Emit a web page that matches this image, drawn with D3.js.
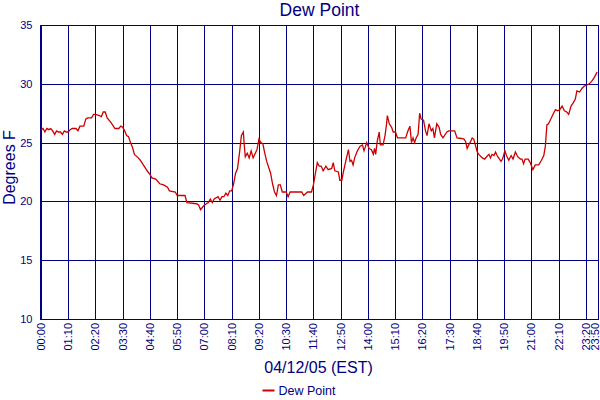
<!DOCTYPE html>
<html>
<head>
<meta charset="utf-8">
<script src="https://cdn.jsdelivr.net/npm/d3@7"></script>
<style>
  body { margin: 0; background: #fff; }
  text { font-family: "Liberation Sans", Arial, sans-serif; fill: #000080; }
</style>
</head>
<body>
<svg id="chart" width="600" height="400"></svg>
<script>
// Readings of the day (time of reading, dew point in F)
const times = [
  "00:00","00:05","00:10","00:15","00:20","00:25","00:30","00:35","00:40","00:45",
  "00:50","00:55","01:00","01:05","01:10","01:15","01:20","01:30","01:35","01:40",
  "01:50","01:55","02:00","02:10","02:15","02:20","02:30","02:35","02:40","02:45",
  "02:50","03:00","03:10","03:20","03:25","03:30","03:35","03:40","03:45","03:50",
  "03:55","04:00","04:10","04:15","04:25","04:35","04:40","04:45","04:55","05:05",
  "05:15","05:25","05:30","05:45","05:50","06:10","06:15","06:40","06:45","06:50",
  "06:55","07:00","07:10","07:15","07:20","07:25","07:35","07:40","07:45","07:50",
  "07:55","08:00","08:05","08:10","08:15","08:20","08:25","08:30","08:35","08:40",
  "08:42","08:45","08:50","08:55","09:00","09:05","09:15","09:20","09:25","09:30",
  "09:35","09:40","09:50","09:55","10:00","10:05","10:10","10:15","10:20","10:30",
  "10:35","10:40","11:10","11:15","11:25","11:35","11:40","11:50","11:55","12:00",
  "12:05","12:12","12:18","12:27","12:31","12:35","12:44","12:48","12:53","12:57",
  "13:03","13:10","13:14","13:18","13:22","13:26","13:33","13:40","13:46","13:50",
  "13:57","14:03","14:09","14:14","14:17","14:20","14:24","14:29","14:32","14:39",
  "14:44","14:48","14:50","14:55","15:01","15:05","15:11","15:16","15:22","15:37",
  "15:43","15:48","15:52","15:56","16:00","16:04","16:09","16:13","16:17","16:23",
  "16:28","16:32","16:37","16:43","16:47","16:51","16:57","17:03","17:07","17:13",
  "17:23","17:28","17:43","17:49","18:00","18:07","18:11","18:15","18:19","18:24",
  "18:28","18:32","18:37","18:41","18:45","18:54","19:00","19:05","19:11","19:15",
  "19:19","19:24","19:28","19:32","19:36","19:42","19:46","19:52","19:56","20:02",
  "20:08","20:13","20:19","20:25","20:32","20:36","20:40","20:44","20:52","20:57",
  "21:04","21:10","21:19","21:26","21:32","21:36","21:40","21:44","21:50","21:57",
  "22:02","22:07","22:13","22:19","22:25","22:31","22:36","22:42","22:48","22:53",
  "22:57","23:04","23:10","23:16","23:23","23:29","23:35","23:41","23:46","23:49"
];
const dewPoint = [
  26.1,26.2,25.9,26.2,26.1,26.2,26.0,25.7,26.0,25.9,
  25.9,25.7,26.0,25.9,25.9,26.1,26.2,26.2,26.0,26.4,
  26.4,27.0,27.1,27.1,27.4,27.4,27.3,27.2,27.6,27.6,
  27.1,26.7,26.2,26.2,26.4,26.3,26.0,25.6,25.5,25.0,
  24.6,24.0,23.7,23.5,23.0,22.5,22.3,22.0,21.9,21.5,
  21.4,21.2,20.9,20.8,20.5,20.5,19.9,19.8,19.7,19.3,
  19.5,19.7,19.9,20.2,19.9,20.2,20.4,20.1,20.4,20.4,
  20.7,20.5,20.9,20.9,21.5,22.4,22.8,24.1,25.6,25.9,
  24.9,23.8,24.1,23.7,24.3,23.7,24.4,25.3,25.0,24.9,
  24.1,23.4,22.4,21.5,20.8,20.5,21.4,21.4,20.8,20.8,
  20.4,20.8,20.8,20.5,20.8,20.8,21.4,23.3,23.0,23.0,
  22.6,23.0,22.7,22.8,23.3,22.6,22.5,21.8,21.8,22.5,
  23.4,24.4,23.4,23.5,23.1,23.7,24.3,24.7,24.8,24.3,
  25.0,24.5,24.4,24.0,24.5,24.0,25.1,25.9,24.8,24.8,
  25.6,26.6,27.3,26.6,26.3,25.9,25.9,25.4,25.4,25.4,
  26.0,26.4,25.0,25.4,25.0,25.4,25.7,27.5,27.0,26.9,
  26.0,25.6,26.6,26.0,26.2,25.4,26.6,26.3,25.7,25.4,
  25.9,26.0,26.0,25.4,25.35,25.3,25.1,24.5,24.8,25.1,
  25.4,25.3,24.7,24.2,24.0,23.7,23.6,23.8,24.0,23.7,
  24.0,23.9,24.2,23.9,23.7,23.4,23.6,24.3,23.9,23.5,
  23.9,23.6,24.2,23.8,23.6,23.6,23.2,23.6,23.6,23.3,
  22.7,23.1,23.1,23.5,23.9,24.7,26.5,26.6,27.0,27.5,
  27.8,27.7,27.8,28.1,27.7,27.6,27.4,28.1,28.4,28.7,
  29.4,29.3,29.6,29.8,29.9,30.0,30.2,30.5,30.8,31.0
];
const xTickLabels = ["00:00","01:10","02:20","03:30","04:40","05:50","07:00","08:10","09:20",
  "10:30","11:40","12:50","14:00","15:10","16:20","17:30","18:40","19:50","21:00",
  "22:10","23:20","23:50"];
const yTicks = [10, 15, 20, 25, 30, 35];

const toMin = s => { const p = s.split(":"); return +p[0] * 60 + +p[1]; };
const data = times.map((t, i) => ({ m: toMin(t), v: dewPoint[i] }));

const svg = d3.select("#chart");
const plotLeft = 40, plotRight = 599, plotTop = 25, plotBottom = 319;

const x = d3.scaleLinear().domain([0, toMin("23:50")]).range([41, 597.5]);
const y = d3.scaleLinear().domain([10, 35]).range([plotBottom, plotTop]);

// horizontal grid + y labels
svg.append("g").selectAll("line").data(yTicks).enter().append("line")
  .attr("x1", plotLeft).attr("x2", plotRight)
  .attr("y1", d => Math.round(y(d)) + 0.5).attr("y2", d => Math.round(y(d)) + 0.5)
  .attr("stroke", "#000080").attr("stroke-width", 1);
svg.append("g").selectAll("text").data(yTicks).enter().append("text")
  .attr("x", 32.5).attr("y", d => y(d)).attr("dy", "0.36em")
  .attr("text-anchor", "end").attr("font-size", 11).text(d => d);

// vertical grid + x labels (last one kept inside the window)
const xTicks = xTickLabels.map(toMin);
svg.append("g").selectAll("line").data(xTicks).enter().append("line")
  .attr("x1", d => Math.round(x(d)) + 0.5).attr("x2", d => Math.round(x(d)) + 0.5)
  .attr("y1", plotTop).attr("y2", plotBottom)
  .attr("stroke", "#000080").attr("stroke-width", 1);
svg.append("g").selectAll("text").data(xTickLabels).enter().append("text")
  .attr("transform", d => `translate(${Math.min(x(toMin(d)), 595.5)},323) rotate(-90)`)
  .attr("dy", "0.36em").attr("text-anchor", "end").attr("font-size", 11)
  .text(d => d);

// plot frame
svg.append("rect").attr("x", plotLeft + 0.5).attr("y", plotTop + 0.5)
  .attr("width", plotRight - plotLeft - 1).attr("height", plotBottom - plotTop)
  .attr("fill", "none").attr("stroke", "#000080").attr("stroke-width", 1);

// the series
const line = d3.line().x(d => x(d.m)).y(d => y(d.v));
svg.append("path").datum(data).attr("d", line)
  .attr("fill", "none").attr("stroke", "#cc0000").attr("stroke-width", 1.3);

// titles
svg.append("text").attr("x", 319.5).attr("y", 16).attr("text-anchor", "middle")
  .attr("font-size", 17.5).text("Dew Point");
svg.append("text").attr("transform", "translate(15,167.5) rotate(-90)")
  .attr("text-anchor", "middle").attr("font-size", 16).text("Degrees F");
svg.append("text").attr("x", 318.5).attr("y", 372.5).attr("text-anchor", "middle")
  .attr("font-size", 16).text("04/12/05 (EST)");

// legend
svg.append("line").attr("x1", 262.5).attr("x2", 274.5).attr("y1", 390.5).attr("y2", 390.5)
  .attr("stroke", "#cc0000").attr("stroke-width", 2);
svg.append("text").attr("x", 278.5).attr("y", 395).attr("font-size", 12.5).text("Dew Point");
</script>
</body>
</html>
